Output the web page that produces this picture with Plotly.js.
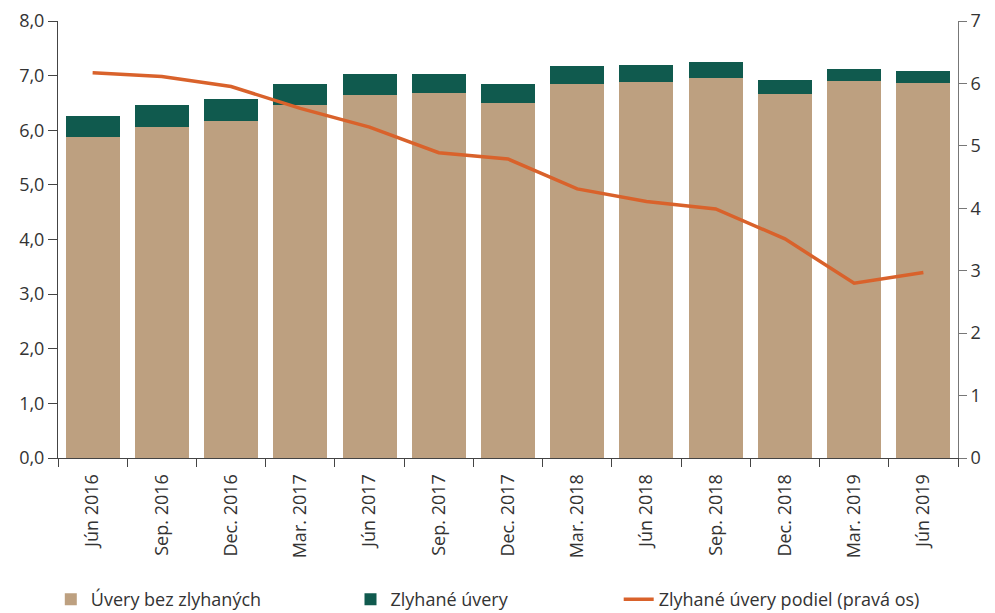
<!DOCTYPE html>
<html><head><meta charset="utf-8">
<script src="https://cdn.plot.ly/plotly-3.0.1.min.js"></script>
<style>body{margin:0;background:#fff}#c{width:995px;height:613px}</style>
</head><body><div id="c"></div>
<script>
const categories = ["Jún 2016","Sep. 2016","Dec. 2016","Mar. 2017","Jún 2017","Sep. 2017","Dec. 2017","Mar. 2018","Jún 2018","Sep. 2018","Dec. 2018","Mar. 2019","Jún 2019"];
const uveryBezZlyhanych = [5.88,6.06,6.17,6.47,6.65,6.68,6.50,6.85,6.89,6.96,6.67,6.90,6.87];
const zlyhaneUvery = [0.38,0.41,0.41,0.38,0.38,0.35,0.35,0.33,0.31,0.29,0.25,0.22,0.22];
const zlyhanePodiel = [6.17,6.11,5.95,5.60,5.30,4.89,4.79,4.31,4.11,3.99,3.51,2.80,2.97];
const yTicks = [0,1,2,3,4,5,6,7,8];
const yTickText = ["0,0","1,0","2,0","3,0","4,0","5,0","6,0","7,0","8,0"];

const fam = "'Open Sans', 'Noto Sans', sans-serif";
const txt = "#333333";
const traces = [
  {type:"bar", x:categories, y:uveryBezZlyhanych, name:"Úvery bez zlyhaných", marker:{color:"#BDA080"}, legend:"legend"},
  {type:"bar", x:categories, y:zlyhaneUvery, name:"Zlyhané úvery", marker:{color:"#105A4E"}, legend:"legend2"},
  {type:"scatter", mode:"lines", x:categories, y:zlyhanePodiel, yaxis:"y2", name:"Zlyhané úvery podiel (pravá os)", line:{color:"#D9622B", width:3.5}, legend:"legend3"}
];
function leg(x){
  return {orientation:"h", x:x, xanchor:"left", yref:"container", y:0.022, yanchor:"middle", font:{family:fam, size:18, color:txt}, bgcolor:"rgba(0,0,0,0)"};
}
const layout = {
  width:995, height:613,
  margin:{l:58, r:37, t:21, b:155, autoexpand:false},
  barmode:"stack", bargap:0.22,
  font:{family:fam, size:18, color:txt},
  plot_bgcolor:"#fff", paper_bgcolor:"#fff",
  showlegend:true,
  legend:leg(-0.008),
  legend2:leg(0.325),
  legend3:leg(0.623),
  xaxis:{type:"category", automargin:false, tickangle:-90, ticks:"outside", ticklen:8, tickcolor:"#444", tickson:"boundaries", ticklabelstandoff:8, showline:true, linecolor:"#444", linewidth:1, showgrid:false, tickfont:{family:fam, size:18, color:txt}},
  yaxis:{range:[0,8], automargin:false, tickvals:yTicks, ticktext:yTickText, ticks:"outside", ticklen:9, tickcolor:"#444", showline:true, linecolor:"#444", showgrid:false, zeroline:false, tickfont:{family:fam, size:18, color:txt}},
  yaxis2:{range:[0,7], automargin:false, overlaying:"y", side:"right", dtick:1, ticks:"outside", ticklen:8, tickcolor:"#777", showline:true, linecolor:"#777", showgrid:false, zeroline:false, tickfont:{family:fam, size:18, color:txt}}
};
Plotly.newPlot("c", traces, layout, {displayModeBar:false, staticPlot:true});
</script></body></html>
